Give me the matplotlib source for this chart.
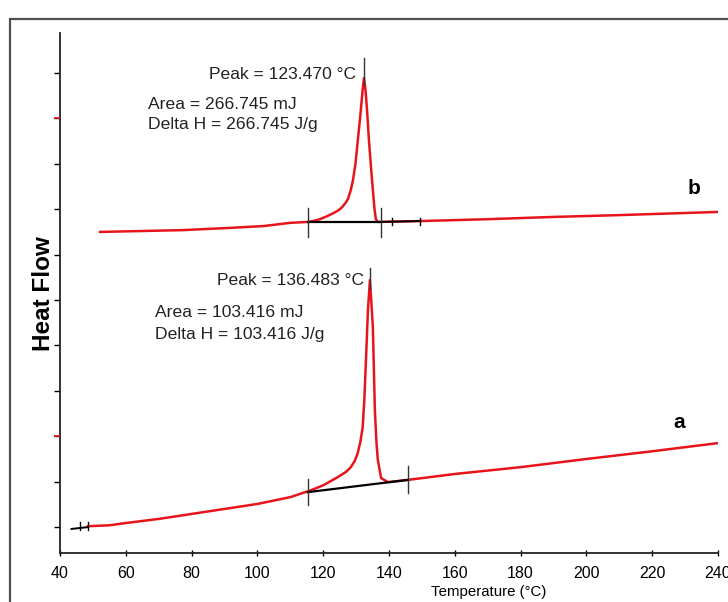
import matplotlib
matplotlib.use("Agg")
import matplotlib.pyplot as plt
from matplotlib import markers
from matplotlib.patches import Rectangle

plt.rcParams['font.family'] = ['Liberation Sans', 'DejaVu Sans']

# DSC trace b (upper)
temp_b = [52.2, 65, 77.5, 92, 102, 110, 115.3, 117, 119, 121, 123, 124.5, 125.7, 126.8, 127.5,
          128.3, 129, 129.8, 130.5, 131.2, 132, 132.4, 132.9, 133.4, 133.9, 134.5, 135.1,
          135.6, 136, 136.6, 150, 170, 190, 210, 240]
flow_b = [6.50, 6.52, 6.54, 6.59, 6.63, 6.70, 6.72, 6.74, 6.78, 6.84, 6.91, 6.97, 7.04, 7.14, 7.22,
          7.40, 7.62, 8.00, 8.50, 9.00, 9.63, 9.89, 9.60, 9.10, 8.52, 7.95, 7.42,
          7.00, 6.78, 6.72, 6.74, 6.78, 6.83, 6.87, 6.94]

# DSC trace a (lower)
temp_a = [48.5, 55, 60, 70, 80, 90, 100, 110, 116.2, 120, 124.4, 127, 128.4, 129.6, 130.5,
          131.3, 132, 132.5, 133, 133.6, 134.2, 134.6, 135.1, 135.7, 136.2, 136.6, 137.6,
          139.7, 145.8, 160, 180, 200, 220, 240]
flow_a = [0.02, 0.04, 0.09, 0.18, 0.29, 0.40, 0.51, 0.66, 0.81, 0.92, 1.10, 1.22, 1.32, 1.46, 1.63,
          1.88, 2.20, 2.80, 3.68, 4.78, 5.44, 5.00, 4.40, 2.58, 1.85, 1.48, 1.08,
          0.99, 1.04, 1.17, 1.32, 1.50, 1.67, 1.85]

# integration limits / baselines
base_b_t = [115.3, 137.6]
base_b_y = [6.72, 6.72]
base_a_t = [115.3, 145.8]
base_a_y = [0.77, 1.04]
peak_b = (132.4, 9.89)
peak_a = (134.2, 5.44)

labels_b = ["Peak = 123.470 °C", "Area = 266.745 mJ", "Delta H = 266.745 J/g"]
labels_a = ["Peak = 136.483 °C", "Area = 103.416 mJ", "Delta H = 103.416 J/g"]

xticks = list(range(40, 241, 20))
yticks = list(range(0, 11))
red_yticks = [2, 9]

fig = plt.figure(figsize=(7.28, 6.02), dpi=100)
ax = fig.add_axes([60 / 728, 1 - 553 / 602, 658 / 728, 520 / 602])

# outer frame of the original screenshot
fig.patches.append(Rectangle((10 / 728, -0.1), 1.2, 1 - 19 / 602 + 0.1,
                             transform=fig.transFigure, fill=False,
                             edgecolor='#505050', linewidth=1.6))

red = '#e8141c'
ax.plot(temp_b, flow_b, color=red, lw=1.8, zorder=2)
ax.plot(temp_a, flow_a, color=red, lw=1.8, zorder=2)

# baselines
ax.plot(base_b_t, base_b_y, color='black', lw=1.6, zorder=3)
ax.plot(base_a_t, base_a_y, color='black', lw=1.6, zorder=3)
ax.plot([137.6, 149.5], [6.72, 6.74], color='black', lw=1.4, zorder=3)
ax.plot([43.5, 48.5], [-0.04, 0.0], color='black', lw=1.4, zorder=3)

# limit markers
for t, y in zip(base_b_t, base_b_y):
    ax.plot([t, t], [y - 0.33, y + 0.31], color='#333333', lw=1.0, zorder=4)
for t, y in zip(base_a_t, base_a_y):
    ax.plot([t, t], [y - 0.29, y + 0.30], color='#333333', lw=1.0, zorder=4)
for t in (141, 149.5):
    ax.plot([t, t], [6.66, 6.80], color='black', lw=1.0, zorder=4)
for t in (46, 48.5):
    ax.plot([t, t], [-0.06, 0.12], color='black', lw=1.0, zorder=4)
ax.plot([peak_b[0]] * 2, [peak_b[1] - 0.15, peak_b[1] + 0.44], color='#333333', lw=1.0, zorder=4)
ax.plot([peak_a[0]] * 2, [peak_a[1] - 0.2, peak_a[1] + 0.26], color='#333333', lw=1.0, zorder=4)

# annotations
fs = 12.6
tc = '#222222'
ax.text(129.9, 9.96, labels_b[0], ha='right', va='center', fontsize=fs, color=tc)
ax.text(66.8, 9.30, labels_b[1], ha='left', va='center', fontsize=fs, color=tc)
ax.text(66.8, 8.86, labels_b[2], ha='left', va='center', fontsize=fs, color=tc)
ax.text(132.3, 5.42, labels_a[0], ha='right', va='center', fontsize=fs, color=tc)
ax.text(69.0, 4.72, labels_a[1], ha='left', va='center', fontsize=fs, color=tc)
ax.text(69.0, 4.24, labels_a[2], ha='left', va='center', fontsize=fs, color=tc)
ax.text(232.8, 7.45, 'b', ha='center', va='center', fontsize=15, fontweight='bold')
ax.text(228.2, 2.3, 'a', ha='center', va='center', fontsize=15, fontweight='bold')

ax.set_xlim(40, 240)
ax.set_ylim(-0.57, 10.88)
ax.set_xticks(xticks)
ax.set_yticks(yticks)
ax.set_yticklabels([])
ax.tick_params(axis='x', direction='inout', length=5, width=1, labelsize=11.5, pad=7)
ax.tick_params(axis='y', direction='out', length=4, width=1)
# a couple of y ticks are drawn red in the original instrument export
ax.plot([40] * len(red_yticks), red_yticks, linestyle='none', marker=markers.TICKLEFT,
        markersize=4, markeredgewidth=1.2, color=red, clip_on=False, zorder=5)

for s in ('top', 'right'):
    ax.spines[s].set_visible(False)
for s in ('left', 'bottom'):
    ax.spines[s].set_linewidth(1.3)
    ax.spines[s].set_color('#222222')

fig.text(489 / 728, 1 - 592 / 602, 'Temperature (°C)', ha='center', va='center', fontsize=10.8)
fig.text(43 / 728, 1 - 294 / 602, 'Heat Flow', ha='center', va='center', rotation=90,
         fontsize=17.5, fontweight='bold')

fig.savefig('out.png', dpi=100)
